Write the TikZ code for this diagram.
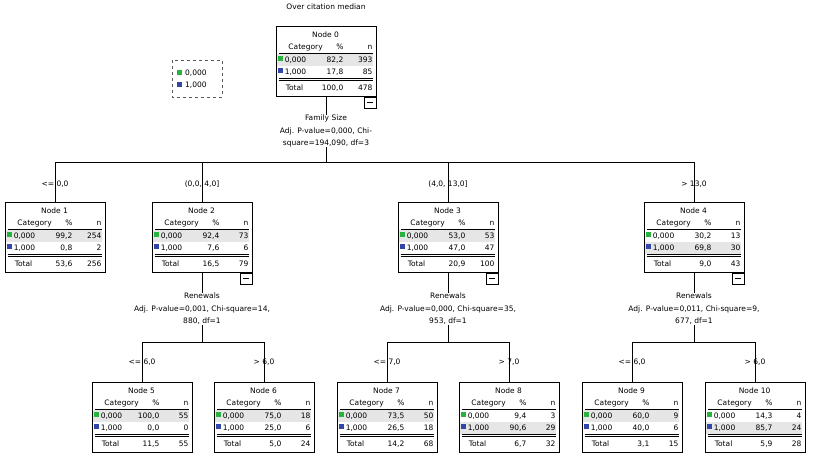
\documentclass[tikz,border=0pt]{standalone}
\usepackage{fontspec}
\setmainfont{DejaVu Sans}
\usetikzlibrary{positioning}
\definecolor{catA}{RGB}{40,180,60}
\definecolor{catB}{RGB}{50,70,170}
\definecolor{rowbg}{RGB}{230,230,230}
\tikzset{
	txt/.style={inner sep=0pt, font=\fontsize{7.5}{9}\selectfont},
	box/.style={draw, line width=0.8pt, minimum width=100pt, minimum height=70pt, anchor=north, inner sep=0pt},
	split/.style={txt, align=center, font=\fontsize{7.5}{12.5}\selectfont},
	tog/.style={draw, line width=0.6pt, minimum width=12pt, minimum height=11pt, inner sep=0pt, anchor=north east},
}
\def\hirow{34}
% table node: name, position, number, p0, n0, p1, n1, total %, total n
\newcommand\catnode[9]{%
	\node[box] (#1) at (#2) {};
	\begin{scope}[shift={(#1.north west)}]
		\fill[rowbg] (1,\hirow-6) rectangle (97,\hirow+6);
		\node[txt] at (50,9) {Node #3};
		\node[txt] at (30,21) {Category};
		\node[txt, anchor=east] at (68,21) {\%};
		\node[txt, anchor=east] at (97,21) {n};
		\draw[line width=0.6pt] (3,27) -- (97,27);
		\fill[catA] (2,29.5) rectangle (7,35);
		\fill[catB] (2,41.5) rectangle (7,47);
		\node[txt, anchor=west] at (9,34) {0,000};
		\node[txt, anchor=west] at (9,46) {1,000};
		\node[txt, anchor=east] at (68,34) {#4};
		\node[txt, anchor=east] at (97,34) {#5};
		\node[txt, anchor=east] at (68,46) {#6};
		\node[txt, anchor=east] at (97,46) {#7};
		\draw[line width=0.6pt] (3,52) -- (97,52) (3,54) -- (97,54);
		\node[txt, anchor=west] at (10,62) {Total};
		\node[txt, anchor=east] at (68,62) {#8};
		\node[txt, anchor=east] at (97,62) {#9};
	\end{scope}
}
\newcommand\collapse[1]{%
	\node[tog] at (#1.south east) {};
	\draw[line width=0.6pt] ([xshift=-9pt,yshift=-5.5pt]#1.south east) -- ([xshift=-3pt,yshift=-5.5pt]#1.south east);
}

\begin{document}
\begin{tikzpicture}[x=1pt, y=-1pt]
	\useasboundingbox (0,0) rectangle (825,466);

	\node[txt] (title) at (326,7) {Over citation median};

	%legend
	\draw[dashed, line width=0.7pt, gray!70!black] (172,60) rectangle (222,97);
	\fill[catA] (177,69.5) rectangle (182,75);
	\fill[catB] (177,81.5) rectangle (182,87);
	\node[txt, anchor=west] (legA) at (185,73) {0,000};
	\node[txt, anchor=west] (legB) at (185,85) {1,000};

	%root
	\catnode{n0}{326,26}{0}{82,2}{393}{17,8}{85}{100,0}{478}
	\collapse{n0}
	\node[split] (s0) at (326,131) {Family Size\\Adj. P-value=0,000, Chi-\\square=194,090, df=3};
	\coordinate (b0) at (326,162);

	%first level
	\catnode{n1}{55,202}{1}{99,2}{254}{0,8}{2}{53,6}{256}
	\catnode{n2}{202,202}{2}{92,4}{73}{7,6}{6}{16,5}{79}
	\catnode{n3}{448,202}{3}{53,0}{53}{47,0}{47}{20,9}{100}
	\def\hirow{46}
	\catnode{n4}{694,202}{4}{30,2}{13}{69,8}{30}{9,0}{43}
	\def\hirow{34}
	\foreach \k in {n2,n3,n4} {\collapse{\k}}

	\node[split] (s2) at (202,309) {Renewals\\Adj. P-value=0,001, Chi-square=14,\\880, df=1};
	\node[split] (s3) at (448,309) {Renewals\\Adj. P-value=0,000, Chi-square=35,\\953, df=1};
	\node[split] (s4) at (694,309) {Renewals\\Adj. P-value=0,011, Chi-square=9,\\677, df=1};
	\coordinate (b2) at (202,342);
	\coordinate (b3) at (448,342);
	\coordinate (b4) at (694,342);

	%second level
	\catnode{n5}{142,382}{5}{100,0}{55}{0,0}{0}{11,5}{55}
	\catnode{n6}{264,382}{6}{75,0}{18}{25,0}{6}{5,0}{24}
	\catnode{n7}{387,382}{7}{73,5}{50}{26,5}{18}{14,2}{68}
	\def\hirow{46}
	\catnode{n8}{509,382}{8}{9,4}{3}{90,6}{29}{6,7}{32}
	\def\hirow{34}
	\catnode{n9}{632,382}{9}{60,0}{9}{40,0}{6}{3,1}{15}
	\def\hirow{46}
	\catnode{n10}{755,382}{10}{14,3}{4}{85,7}{24}{5,9}{28}

	%connectors
	\draw[line width=0.6pt] (n0) -- (s0) (s0) -- (b0);
	\foreach \k in {n1,n2,n3,n4} {\draw[line width=0.6pt] (b0) -| (\k.north);}
	\foreach \p in {2,3,4} {\draw[line width=0.6pt] (n\p) -- (s\p) (s\p) -- (b\p);}
	\draw[line width=0.6pt] (b2) -| (n5.north) (b2) -| (n6.north);
	\draw[line width=0.6pt] (b3) -| (n7.north) (b3) -| (n8.north);
	\draw[line width=0.6pt] (b4) -| (n9.north) (b4) -| (n10.north);

	%edge labels
	\node[txt] (e1) at (55,184) {<= 0,0};
	\node[txt] (e2) at (202,184) {(0,0, 4,0]};
	\node[txt] (e3) at (448,184) {(4,0, 13,0]};
	\node[txt] (e4) at (694,184) {> 13,0};
	\node[txt] (e5) at (142,362) {<= 6,0};
	\node[txt] (e6) at (264,362) {> 6,0};
	\node[txt] (e7) at (387,362) {<= 7,0};
	\node[txt] (e8) at (509,362) {> 7,0};
	\node[txt] (e9) at (632,362) {<= 6,0};
	\node[txt] (e10) at (755,362) {> 6,0};
\end{tikzpicture}
\end{document}
